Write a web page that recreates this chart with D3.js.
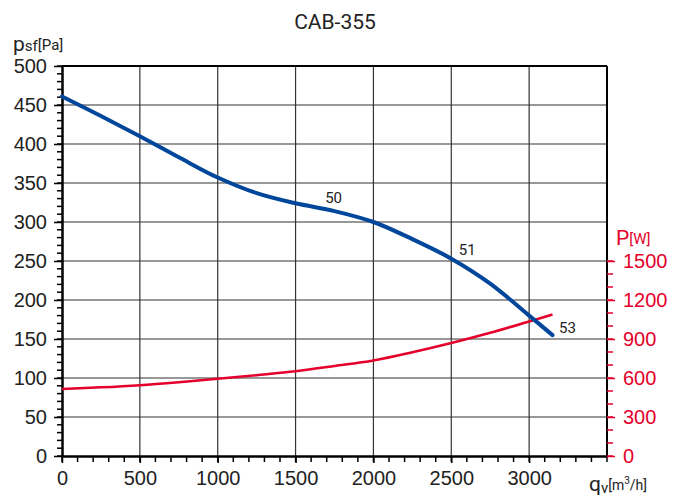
<!DOCTYPE html>
<html>
<head>
<meta charset="utf-8">
<script src="https://d3js.org/d3.v7.min.js"></script>
<style>
  body { margin: 0; background: #fff; }
  svg { font-family: Roboto, "DejaVu Sans", sans-serif; }
  .tick text { fill: #222; }
</style>
</head>
<body>
<svg width="683" height="502"></svg>
<script>
// airflow positions, m3/h
var flow = [0, 250, 500, 750, 1000, 1250, 1500, 1750, 2000, 2250, 2500, 2750, 3000, 3150];
// static pressure, Pa
var pressure = [461, 436, 410, 383, 357, 337, 324, 314, 300, 278, 253, 221, 180, 155];
// input power, W
var power = [515, 528, 545, 568, 594, 622, 652, 692, 735, 798, 869, 948, 1035, 1088];

var xTicks = [0, 500, 1000, 1500, 2000, 2500, 3000];
var yTicks = [0, 50, 100, 150, 200, 250, 300, 350, 400, 450, 500];
var pTicks = [0, 300, 600, 900, 1200, 1500];

// point labels on the pressure curve
var marks = [
  {q: 1690, p: 325, t: "50"},
  {q: 2548, p: 258, t: "51"},
  {q: 3192, p: 158, t: "53"}
];

var red = "#e4002b", blue = "#00479b";

var svg = d3.select("svg"),
    pLeft = 62, pRight = 607, pTop = 66, pBottom = 456;

var x = d3.scaleLinear().domain([0, 3500]).range([pLeft, pRight]);
var y = d3.scaleLinear().domain([0, 500]).range([pBottom, pTop]);
var y2 = d3.scaleLinear().domain([0, 1500]).range([pBottom, y(250)]);

// grid
var grid = svg.append("g").attr("stroke", "#333").attr("stroke-width", 1.2);
grid.selectAll(".gx").data(xTicks.slice(1)).enter().append("line")
    .attr("x1", d => x(d)).attr("x2", d => x(d))
    .attr("y1", pTop).attr("y2", pBottom);
grid.selectAll(".gy").data(yTicks.slice(1)).enter().append("line")
    .attr("x1", pLeft).attr("x2", pRight)
    .attr("y1", d => y(d)).attr("y2", d => y(d));

// frame top / right
svg.append("line").attr("x1", pLeft).attr("x2", pRight).attr("y1", pTop).attr("y2", pTop)
    .attr("stroke", "#000").attr("stroke-width", 2);
svg.append("line").attr("x1", pRight).attr("x2", pRight).attr("y1", pTop).attr("y2", pBottom)
    .attr("stroke", "#000").attr("stroke-width", 2);

// minor ticks
var minorX = d3.range(0, 3501, 100), minorY = d3.range(0, 501, 10), minorP = d3.range(0, 1501, 100);
svg.append("g").selectAll("line").data(minorX).enter().append("line")
    .attr("x1", d => x(d)).attr("x2", d => x(d))
    .attr("y1", pBottom).attr("y2", pBottom + 6)
    .attr("stroke", "#000").attr("stroke-width", 1.5);
svg.append("g").selectAll("line").data(minorY).enter().append("line")
    .attr("x1", pLeft - 5).attr("x2", pLeft + 1)
    .attr("y1", d => y(d)).attr("y2", d => y(d))
    .attr("stroke", "#000").attr("stroke-width", 1.5);
svg.append("g").selectAll("line").data(minorP).enter().append("line")
    .attr("x1", pRight).attr("x2", pRight + 6)
    .attr("y1", d => y2(d)).attr("y2", d => y2(d))
    .attr("stroke", red).attr("stroke-width", 1.5);

// axes
var xAxis = svg.append("g").attr("transform", "translate(0," + pBottom + ")")
    .call(d3.axisBottom(x).tickValues(xTicks).tickFormat(d3.format("d"))
      .tickSize(7).tickPadding(8).tickSizeOuter(0));
xAxis.select(".domain").attr("stroke", "#000").attr("stroke-width", 2.5);
xAxis.selectAll(".tick line").attr("stroke", "#000").attr("stroke-width", 1.5);
xAxis.selectAll("text").attr("font-size", 20);

var yAxis = svg.append("g").attr("transform", "translate(" + pLeft + ",0)")
    .call(d3.axisLeft(y).tickValues(yTicks).tickSize(8).tickPadding(7).tickSizeOuter(0));
yAxis.select(".domain").attr("stroke", "#000").attr("stroke-width", 2.5);
yAxis.selectAll(".tick line").attr("stroke", "#000").attr("stroke-width", 1.5);
yAxis.selectAll("text").attr("font-size", 20);

var pAxis = svg.append("g").attr("transform", "translate(" + pRight + ",0)")
    .call(d3.axisRight(y2).tickValues(pTicks).tickFormat(d3.format("d"))
      .tickSize(8).tickPadding(8).tickSizeOuter(0));
pAxis.select(".domain").remove();
pAxis.selectAll(".tick line").attr("stroke", red).attr("stroke-width", 1.5);
pAxis.selectAll("text").attr("font-size", 20).style("fill", red);

// curves
var line = d3.line().curve(d3.curveCatmullRom.alpha(0.5));
svg.append("path")
    .attr("d", line(flow.map((q, i) => [x(q), y2(power[i])])))
    .attr("fill", "none").attr("stroke", red).attr("stroke-width", 2.5);
svg.append("path")
    .attr("d", line(flow.map((q, i) => [x(q), y(pressure[i])])))
    .attr("fill", "none").attr("stroke", blue).attr("stroke-width", 4).attr("stroke-linecap", "round");

svg.append("g").selectAll("text").data(marks).enter().append("text")
    .attr("x", d => x(d.q)).attr("y", d => y(d.p))
    .attr("font-size", 15).attr("fill", "#222").text(d => d.t);

// title and axis labels
svg.append("text").attr("x", 335).attr("y", 29).attr("text-anchor", "middle")
    .attr("font-size", 21).attr("fill", "#222").text("CAB-355");

var yl = svg.append("text").attr("x", 13).attr("y", 51).attr("fill", "#222").attr("font-size", 21);
yl.append("tspan").text("p");
yl.append("tspan").attr("font-size", 15).attr("dy", 0).text("sf");
yl.append("tspan").attr("font-size", 15).attr("dy", -1).text("[Pa]");

var xl = svg.append("text").attr("x", 589).attr("y", 491).attr("fill", "#222").attr("font-size", 21);
xl.append("tspan").text("q");
xl.append("tspan").attr("font-size", 15).attr("dy", 2).text("v");
xl.append("tspan").attr("font-size", 14).attr("dy", -3).text("[m");
xl.append("tspan").attr("font-size", 10).attr("dy", -6).text("3");
xl.append("tspan").attr("font-size", 14).attr("dy", 6).text("/h]");

var pl = svg.append("text").attr("x", 616).attr("y", 245).attr("fill", red).attr("font-size", 21);
pl.append("tspan").text("P");
pl.append("tspan").attr("font-size", 15).attr("dy", -1).text("[W]");
</script>
</body>
</html>
